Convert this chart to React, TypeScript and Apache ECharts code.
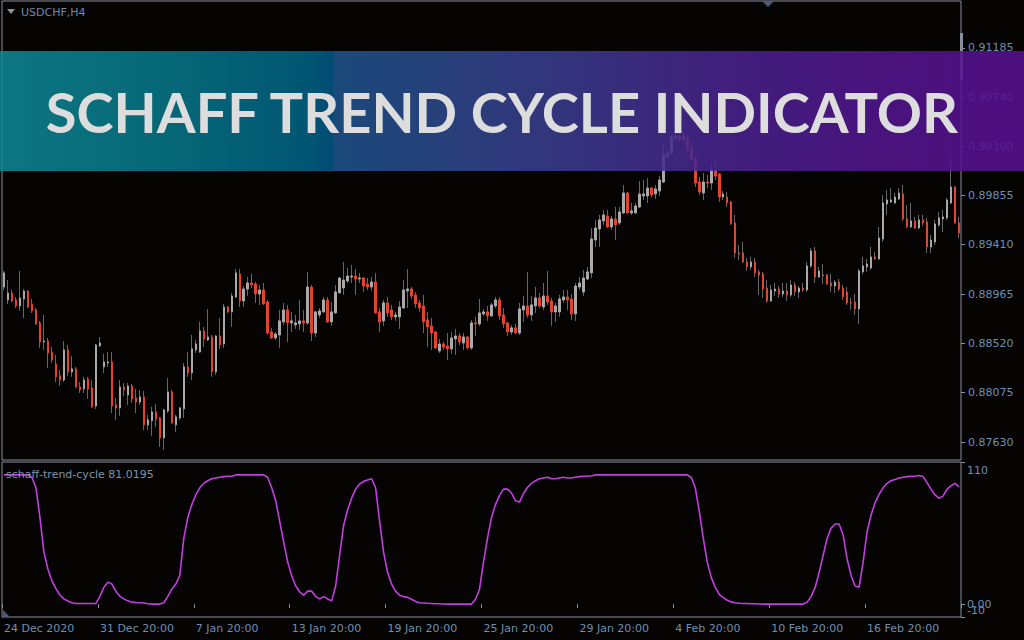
import React, { useEffect, useRef } from "react";
import * as echarts from "echarts";

// ---- data (USDCHF H4) ----
const candleOpen = [
  0.89029,0.88912,0.88975,0.88912,0.88858,0.88921,0.88993,0.88876,0.88822,0.88705,0.88533,0.88542,
  0.88443,0.88335,0.88227,0.88190,0.88461,0.88263,0.88290,0.88127,0.88109,0.88199,0.88118,0.87956,
  0.88497,0.88308,0.88344,0.88353,0.87965,0.87938,0.88127,0.88055,0.88136,0.88028,0.87992,0.88037,
  0.87785,0.87821,0.87902,0.87848,0.87667,0.87911,0.88082,0.87785,0.87848,0.87929,0.88308,0.88254,
  0.88461,0.88443,0.88632,0.88551,0.88578,0.88263,0.88587,0.88515,0.88849,0.88804,0.88939,0.89147,
  0.88903,0.89011,0.89065,0.89056,0.88966,0.89002,0.88894,0.88623,0.88569,0.88596,0.88714,0.88822,
  0.88705,0.88687,0.88696,0.88723,0.88705,0.89029,0.88614,0.88777,0.88804,0.88912,0.88714,0.88795,
  0.88975,0.89020,0.89083,0.89119,0.89128,0.89101,0.89110,0.89056,0.89029,0.89074,0.88804,0.88723,
  0.88885,0.88822,0.88759,0.88759,0.88840,0.88993,0.89011,0.88957,0.88885,0.88858,0.88732,0.88678,
  0.88623,0.88452,0.88515,0.88497,0.88470,0.88560,0.88587,0.88524,0.88578,0.88479,0.88705,0.88696,
  0.88786,0.88804,0.88768,0.88858,0.88912,0.88777,0.88705,0.88623,0.88660,0.88614,0.88822,0.88858,
  0.88777,0.88858,0.88930,0.88849,0.88948,0.88903,0.88804,0.88804,0.88912,0.88939,0.88921,0.88786,
  0.89029,0.88984,0.89101,0.89156,0.89453,0.89552,0.89625,0.89670,0.89571,0.89643,0.89607,0.89697,
  0.89877,0.89697,0.89697,0.89751,0.89850,0.89850,0.89922,0.89868,0.89895,0.89976,0.90202,0.90238,
  0.90373,0.90391,0.90364,0.90373,0.90283,0.90193,0.89976,0.89877,0.89976,0.89967,0.90085,0.90048,
  0.89841,0.89841,0.89796,0.89607,0.89336,0.89336,0.89255,0.89210,0.89255,0.89165,0.89147,0.89020,
  0.88903,0.88993,0.89011,0.88966,0.88993,0.88957,0.89047,0.88984,0.89020,0.89002,0.89219,0.89354,
  0.89119,0.89137,0.89137,0.89065,0.89038,0.89074,0.89020,0.88984,0.88894,0.88894,0.88831,0.89165,
  0.89210,0.89201,0.89300,0.89282,0.89462,0.89778,0.89796,0.89787,0.89823,0.89868,0.89643,0.89571,
  0.89625,0.89561,0.89634,0.89616,0.89390,0.89435,0.89589,0.89643,0.89652,0.89787,0.89931,0.89607,
];
const candleClose = [
  0.89156,0.88975,0.88903,0.88858,0.88930,0.88993,0.88849,0.88813,0.88696,0.88533,0.88542,0.88434,
  0.88371,0.88218,0.88190,0.88461,0.88263,0.88290,0.88127,0.88100,0.88190,0.88109,0.87947,0.88506,
  0.88524,0.88353,0.88353,0.87956,0.87938,0.88127,0.88100,0.88136,0.88019,0.87992,0.88037,0.87785,
  0.87830,0.87902,0.87839,0.87667,0.87920,0.88082,0.87803,0.87857,0.87938,0.88308,0.88254,0.88470,
  0.88515,0.88632,0.88560,0.88578,0.88263,0.88587,0.88506,0.88849,0.88804,0.88948,0.89156,0.88903,
  0.89011,0.89065,0.89047,0.88966,0.89002,0.88876,0.88614,0.88569,0.88605,0.88723,0.88822,0.88705,
  0.88723,0.88705,0.88723,0.88705,0.89029,0.88614,0.88804,0.88813,0.88912,0.88714,0.88804,0.88984,
  0.89110,0.89092,0.89128,0.89128,0.89101,0.89110,0.89038,0.89029,0.89074,0.88795,0.88714,0.88885,
  0.88795,0.88759,0.88777,0.88849,0.89002,0.89011,0.88948,0.88876,0.88840,0.88714,0.88669,0.88614,
  0.88479,0.88515,0.88488,0.88470,0.88569,0.88587,0.88533,0.88578,0.88479,0.88705,0.88696,0.88795,
  0.88804,0.88768,0.88867,0.88912,0.88768,0.88696,0.88623,0.88660,0.88614,0.88831,0.88858,0.88777,
  0.88867,0.88930,0.88858,0.88948,0.88894,0.88804,0.88858,0.88921,0.88939,0.88912,0.88786,0.89038,
  0.89065,0.89110,0.89165,0.89462,0.89561,0.89634,0.89679,0.89571,0.89643,0.89589,0.89706,0.89877,
  0.89697,0.89715,0.89760,0.89868,0.89868,0.89922,0.89859,0.89913,0.89994,0.90220,0.90238,0.90382,
  0.90391,0.90355,0.90382,0.90274,0.90184,0.89967,0.89886,0.89976,0.89967,0.90085,0.90030,0.89841,
  0.89868,0.89787,0.89598,0.89336,0.89327,0.89255,0.89210,0.89255,0.89156,0.89137,0.89011,0.88903,
  0.89002,0.89011,0.88966,0.88993,0.88957,0.89047,0.88984,0.89020,0.89002,0.89219,0.89354,0.89119,
  0.89174,0.89128,0.89056,0.89038,0.89074,0.89011,0.88939,0.88885,0.88885,0.88831,0.89174,0.89219,
  0.89237,0.89300,0.89282,0.89471,0.89787,0.89814,0.89814,0.89841,0.89877,0.89643,0.89571,0.89625,
  0.89561,0.89634,0.89607,0.89390,0.89453,0.89598,0.89652,0.89661,0.89814,0.89931,0.89607,0.89516,
];
const candleHigh = [
  0.89174,0.89092,0.89002,0.88939,0.89174,0.89011,0.89002,0.88921,0.88840,0.88723,0.88777,0.88569,
  0.88488,0.88416,0.88281,0.88542,0.88506,0.88407,0.88308,0.88172,0.88218,0.88218,0.88190,0.88515,
  0.88578,0.88425,0.88443,0.88443,0.88028,0.88190,0.88163,0.88163,0.88154,0.88109,0.88100,0.88091,
  0.87875,0.87947,0.87974,0.87857,0.87929,0.88208,0.88100,0.87875,0.87947,0.88344,0.88443,0.88596,
  0.88551,0.88714,0.88669,0.88831,0.88596,0.88596,0.88750,0.88876,0.88858,0.88975,0.89192,0.89192,
  0.89038,0.89119,0.89147,0.89074,0.89047,0.89065,0.88912,0.88660,0.88623,0.88822,0.88885,0.88867,
  0.88804,0.88777,0.88912,0.88822,0.89165,0.89047,0.88813,0.88840,0.88939,0.88939,0.88894,0.89047,
  0.89119,0.89255,0.89201,0.89228,0.89192,0.89156,0.89119,0.89110,0.89119,0.89156,0.88840,0.88912,
  0.88939,0.88867,0.88804,0.88903,0.89092,0.89192,0.89029,0.88984,0.88912,0.88957,0.88804,0.88750,
  0.88632,0.88560,0.88533,0.88614,0.88623,0.88651,0.88614,0.88614,0.88587,0.88732,0.88759,0.88921,
  0.88831,0.88858,0.88885,0.88939,0.88939,0.88840,0.88714,0.88687,0.88696,0.88885,0.88948,0.89165,
  0.88948,0.89029,0.88975,0.89065,0.89174,0.88930,0.88885,0.88957,0.89002,0.89002,0.88966,0.89065,
  0.89119,0.89183,0.89210,0.89561,0.89634,0.89679,0.89724,0.89724,0.89670,0.89751,0.89751,0.89949,
  0.89886,0.89787,0.89787,0.89985,0.89994,0.90012,0.89931,0.89949,0.90030,0.90328,0.90283,0.90400,
  0.90436,0.90427,0.90436,0.90400,0.90337,0.90202,0.90021,0.90058,0.90040,0.90148,0.90193,0.90058,
  0.89895,0.89886,0.89805,0.89679,0.89408,0.89435,0.89291,0.89300,0.89291,0.89183,0.89165,0.89092,
  0.89047,0.89065,0.89038,0.89065,0.89065,0.89092,0.89074,0.89038,0.89065,0.89255,0.89381,0.89390,
  0.89210,0.89237,0.89147,0.89147,0.89092,0.89101,0.89047,0.89029,0.88930,0.88966,0.89192,0.89300,
  0.89282,0.89390,0.89345,0.89570,0.89859,0.89904,0.89922,0.89877,0.89922,0.89949,0.89769,0.89787,
  0.89661,0.89679,0.89679,0.89652,0.89498,0.89634,0.89706,0.89724,0.89832,0.90220,0.89940,0.89661,
];
const candleLow = [
  0.89002,0.88876,0.88894,0.88840,0.88813,0.88750,0.88840,0.88795,0.88687,0.88479,0.88461,0.88299,
  0.88344,0.88172,0.88136,0.88172,0.88227,0.88218,0.88118,0.88073,0.88073,0.88019,0.87938,0.87929,
  0.88488,0.88254,0.88308,0.87893,0.87830,0.87866,0.88046,0.87965,0.87983,0.87893,0.87965,0.87739,
  0.87739,0.87685,0.87767,0.87586,0.87559,0.87893,0.87794,0.87721,0.87830,0.87848,0.88218,0.88190,
  0.88434,0.88434,0.88488,0.88542,0.88218,0.88236,0.88470,0.88479,0.88795,0.88669,0.88930,0.88849,
  0.88849,0.88948,0.89020,0.88885,0.88867,0.88867,0.88596,0.88560,0.88551,0.88479,0.88687,0.88533,
  0.88623,0.88651,0.88641,0.88623,0.88687,0.88542,0.88578,0.88750,0.88795,0.88705,0.88678,0.88786,
  0.88975,0.88957,0.89065,0.89065,0.88957,0.89065,0.88984,0.89002,0.88993,0.88786,0.88623,0.88678,
  0.88759,0.88732,0.88723,0.88651,0.88831,0.88840,0.88921,0.88840,0.88804,0.88614,0.88488,0.88461,
  0.88470,0.88434,0.88461,0.88371,0.88425,0.88416,0.88506,0.88461,0.88470,0.88461,0.88587,0.88678,
  0.88768,0.88723,0.88759,0.88840,0.88732,0.88660,0.88587,0.88596,0.88605,0.88596,0.88714,0.88750,
  0.88723,0.88795,0.88840,0.88822,0.88867,0.88678,0.88714,0.88759,0.88885,0.88822,0.88732,0.88723,
  0.89002,0.88948,0.89092,0.89110,0.89390,0.89390,0.89589,0.89561,0.89543,0.89453,0.89589,0.89688,
  0.89688,0.89679,0.89688,0.89742,0.89814,0.89787,0.89841,0.89823,0.89850,0.89967,0.90193,0.90220,
  0.90355,0.90337,0.90337,0.90247,0.90157,0.89931,0.89859,0.89814,0.89922,0.89904,0.89994,0.89796,
  0.89814,0.89751,0.89589,0.89291,0.89273,0.89246,0.89174,0.89183,0.89119,0.88957,0.88930,0.88885,
  0.88894,0.88948,0.88930,0.88939,0.88903,0.88939,0.88948,0.88930,0.88984,0.88984,0.89201,0.89065,
  0.89110,0.89056,0.89047,0.88984,0.88975,0.88993,0.88912,0.88867,0.88822,0.88777,0.88696,0.89147,
  0.89165,0.89183,0.89273,0.89273,0.89435,0.89679,0.89787,0.89778,0.89814,0.89625,0.89561,0.89561,
  0.89552,0.89552,0.89580,0.89336,0.89336,0.89408,0.89571,0.89525,0.89634,0.89778,0.89598,0.89471,
];
const stcValues = [
  100,100,100,100,100,100,100,98,90,67,40,27,
  18,12,7,4,2.4,1.1,0.5,0.5,0.5,0.5,0.5,0.5,
  6,13,17,15.5,10,6,4,2.5,1.5,1.2,1,0.8,
  0.3,0,0,0,1,6,11.5,15.5,22,51,67,77,
  84.5,90,93.5,95.5,97,97.6,98.2,98.7,99,99,100,100,
  100,100,100,100,100,100,98,90,80,64,48,32.5,
  22,14,9.5,6.8,10,10,5.8,4,5.8,4,2.5,14,
  38,61,73,82,89,93,95,96,97,90,64,40,
  24.6,15.5,10,6.8,5.8,5.2,3.7,2,1,0.8,0.6,0.5,
  0.3,0.2,0.1,0,0,0,0,0,0,0,3.7,11.5,
  32.5,51,67,77,84,89,89,86,80,79,85.6,90.3,
  93.5,95.5,97,97.6,98.2,97,97,97.6,98.2,97.6,97.6,98.2,
  98.7,99,99,99.3,100,100,100,100,100,100,100,100,
  100,100,100,100,100,100,100,100,100,100,100,100,
  100,100,100,100,98,90,72,51,32.5,20.7,12.9,7.6,
  5,3,1.7,1,0.6,0.5,0.4,0.3,0.2,0.1,0,0,
  0,0,0,0,0,0,0,0,0,1.5,6,12.9,
  24.6,37.8,51,58.8,62,62,53.5,35,22,14,13,32.5,
  56,69,78.5,85,90,93.5,95.5,96.5,97.6,98.2,98.7,99,
  99,99.5,98.7,94,89,84.5,82,83.6,89,91.6,93.5,90.8,
];
const dateTickLabels = [
  "24 Dec 2020", "31 Dec 20:00", "7 Jan 20:00", "13 Jan 20:00", "19 Jan 20:00",
  "25 Jan 20:00", "29 Jan 20:00", "4 Feb 20:00", "10 Feb 20:00", "16 Feb 20:00",
];
const barsPerDateLabel = 24;
const priceTickLabels = [0.8763, 0.88075, 0.8852, 0.88965, 0.8941, 0.89855, 0.903, 0.9074, 0.91185];
const stcTickValues = [0, 110];
const stcMinTickValues = [-10];
const symbolTitle = "USDCHF,H4";
const indicatorName = "schaff-trend-cycle";
const indicatorReading = "81.0195";
const bannerTitle = "SCHAFF TREND CYCLE INDICATOR";

// ---- style ----
const FONT = "DejaVu Sans";
const BG = "#060303";
const BORDER = "#8a8f9c";
const LABEL = "#6d8fb2";
const BULL = "#a9a9a9";
const BEAR = "#e2442e";
const WICK = "#676767";

const stcLabelFormatter = (v: number) =>
  v === 110 ? "{top|110}" : v === -10 ? "{bot|-10}" : "{mid|" + v.toFixed(2) + "}";
const stcRich = {
  top: { color: LABEL, fontFamily: FONT, fontSize: 11, padding: [17, 0, 0, 0] },
  mid: { color: LABEL, fontFamily: FONT, fontSize: 11 },
  bot: { color: LABEL, fontFamily: FONT, fontSize: 11, padding: [0, 0, 14, 0] },
};

export default function App() {
  const ref = useRef<HTMLDivElement>(null);
  useEffect(() => {
    const chart = echarts.init(ref.current as HTMLDivElement, null, { renderer: "svg" });
    const categories = candleOpen.map((_, i) => String(i));
    const wickData = candleOpen.map((o, i) => {
      const m = (o + candleClose[i]) / 2;
      return [m, m, candleLow[i], candleHigh[i]];
    });
    const bodyData = candleOpen.map((o, i) => {
      const c = candleClose[i];
      return [o, c, Math.min(o, c), Math.max(o, c)];
    });
    const showEvery = (i: number) => i % barsPerDateLabel === 0;
    const gradient = new echarts.graphic.LinearGradient(0, 0, 1, 0, [
      { offset: 0, color: "#0c8894" },
      { offset: 0.15, color: "#077889" },
      { offset: 0.3, color: "#006384" },
      { offset: 0.325, color: "#005685" },
      { offset: 0.326, color: "#1d548c" },
      { offset: 0.45, color: "#2f478c" },
      { offset: 0.55, color: "#3a3b8e" },
      { offset: 0.7, color: "#48248f" },
      { offset: 0.85, color: "#52168f" },
      { offset: 1, color: "#581090" },
    ]);
    const stcAxisBase = {
      type: "value", gridIndex: 1, position: "right", min: -10, max: 110,
      splitLine: { show: false }, axisLine: { show: false },
    };
    const option = {
      animation: false,
      backgroundColor: BG,
      grid: [
        { left: 2, top: 1, width: 959, height: 459, show: true, borderColor: BORDER, borderWidth: 1, backgroundColor: "transparent" },
        { left: 2, top: 462, width: 959, height: 155, show: true, borderColor: BORDER, borderWidth: 1, backgroundColor: "transparent" },
      ],
      xAxis: [
        {
          type: "category", gridIndex: 0, data: categories, boundaryGap: true,
          axisLine: { show: false }, axisTick: { show: false }, axisLabel: { show: false }, splitLine: { show: false },
        },
        {
          type: "category", gridIndex: 1, data: categories, boundaryGap: true,
          axisLine: { show: false },
          axisTick: { show: true, interval: showEvery, length: 4, lineStyle: { color: BORDER } },
          axisLabel: {
            interval: showEvery,
            formatter: (_v: string, idx: number) => dateTickLabels[idx / barsPerDateLabel] ?? "",
            align: "left", color: LABEL, fontFamily: FONT, fontSize: 11, margin: 6,
          },
          splitLine: { show: false },
        },
      ],
      yAxis: [
        {
          type: "value", gridIndex: 0, position: "right", min: 0.87468, max: 0.91609, scale: true,
          splitLine: { show: false }, axisLine: { show: false },
          axisTick: { show: true, customValues: priceTickLabels, length: 4, lineStyle: { color: BORDER } },
          axisLabel: {
            customValues: priceTickLabels, formatter: (v: number) => v.toFixed(5),
            color: LABEL, fontFamily: FONT, fontSize: 11, margin: 7,
          },
        },
        {
          ...stcAxisBase,
          axisTick: { show: true, customValues: stcTickValues, length: 4, lineStyle: { color: BORDER } },
          axisLabel: {
            customValues: stcTickValues, showMinLabel: true, showMaxLabel: true,
            formatter: stcLabelFormatter, color: LABEL, fontFamily: FONT, fontSize: 11, margin: 6, rich: stcRich,
          },
        },
        {
          ...stcAxisBase,
          axisTick: { show: true, customValues: stcMinTickValues, length: 4, lineStyle: { color: BORDER } },
          axisLabel: {
            customValues: stcMinTickValues, showMinLabel: true, showMaxLabel: true,
            formatter: stcLabelFormatter, color: LABEL, fontFamily: FONT, fontSize: 11, margin: 6, rich: stcRich,
          },
        },
      ],
      series: [
        {
          type: "candlestick", name: "wicks", xAxisIndex: 0, yAxisIndex: 0, data: wickData, barWidth: 1,
          itemStyle: { color: WICK, color0: WICK, borderColor: WICK, borderColor0: WICK, borderColorDoji: WICK, borderWidth: 1 },
        },
        {
          type: "candlestick", name: "bodies", xAxisIndex: 0, yAxisIndex: 0, data: bodyData, barWidth: 2,
          itemStyle: { color: BULL, color0: BEAR, borderColor: BULL, borderColor0: BEAR, borderColorDoji: BULL, borderWidth: 1 },
        },
        {
          type: "line", name: indicatorName, xAxisIndex: 1, yAxisIndex: 1, data: stcValues,
          symbol: "none", lineStyle: { color: "#c23fe2", width: 1.6 },
        },
      ],
      graphic: [
        { type: "polygon", z: 50, shape: { points: [[7, 9], [15, 9], [11, 14]] }, style: { fill: "#8b93a5" } },
        { type: "text", z: 50, x: 21, y: 12, style: { text: symbolTitle, fill: "#6f89a8", fontFamily: FONT, fontSize: 11, verticalAlign: "middle" } },
        { type: "polygon", z: 50, shape: { points: [[762, 1], [774, 1], [768, 7]] }, style: { fill: "#4b5a7c" } },
        { type: "rect", z: 50, shape: { x: 960, y: 33, width: 3, height: 47 }, style: { fill: "#8a8f9a" } },
        { type: "polygon", z: 50, shape: { points: [[3, 610], [3, 617], [10, 617]] }, style: { fill: "#4b5a7c" } },
        { type: "text", z: 50, x: 6, y: 474, style: { text: indicatorName + " " + indicatorReading, fill: "#7c93aa", fontFamily: FONT, fontSize: 11, verticalAlign: "middle" } },
        { type: "rect", z: 100, shape: { x: 0, y: 51, width: 1024, height: 120 }, style: { fill: gradient, opacity: 0.87 } },
        {
          type: "text", z: 101, x: 502, y: 111,
          style: { text: bannerTitle, fill: "#dddddd", fontFamily: "Lato", fontWeight: "bold", fontSize: 56, align: "center", verticalAlign: "middle" },
        },
      ],
    };
    chart.setOption(option as any);
    return () => chart.dispose();
  }, []);
  return <div ref={ref} style={{ position: "absolute", left: 0, top: 0, width: 1024, height: 640 }} />;
}
